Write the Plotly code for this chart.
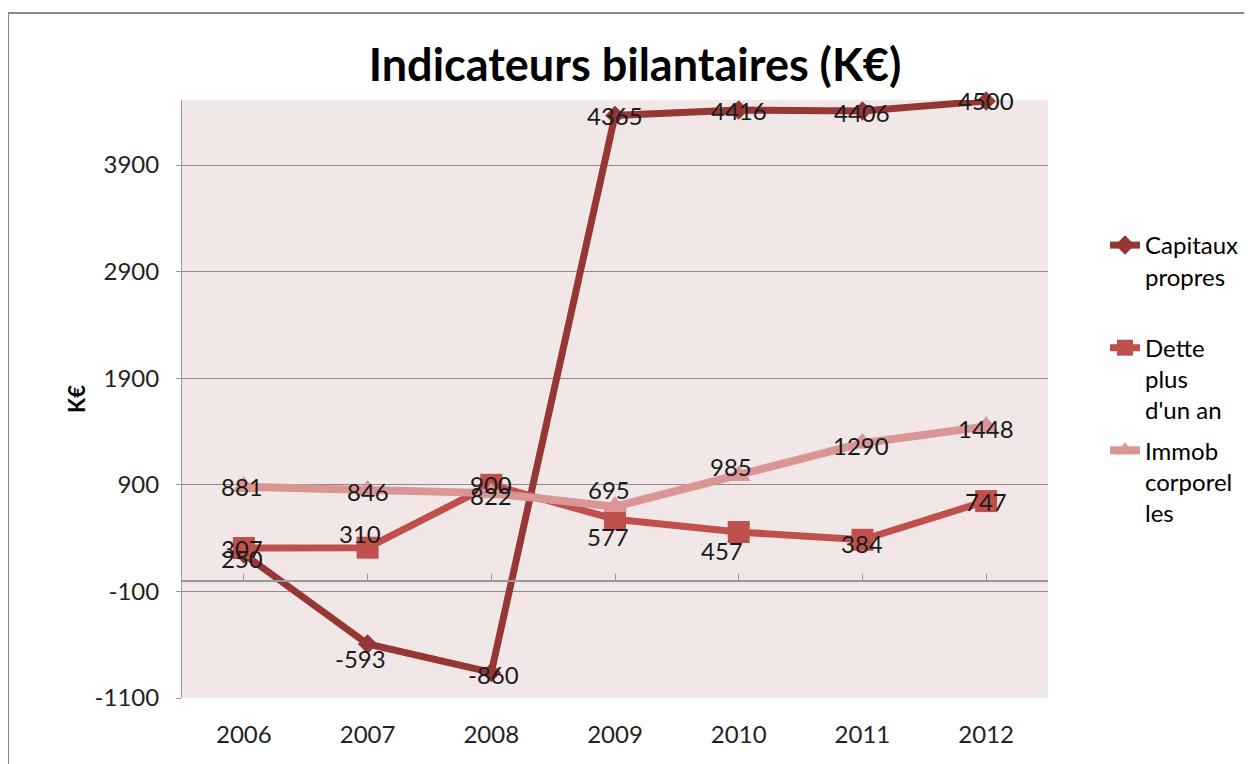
import plotly.graph_objects as go

years = ["2006", "2007", "2008", "2009", "2010", "2011", "2012"]
capitaux = [250, -593, -860, 4365, 4416, 4406, 4500]
dette = [307, 310, 900, 577, 457, 384, 747]
immob = [881, 846, 822, 695, 985, 1290, 1448]
y_ticks = [-1100, -100, 900, 1900, 2900, 3900]
y_min, y_max = -1100, 4510

# label offsets in pixels (style only): (xshift, yshift)
off_cap = [(-2, -4), (-7, -15), (2, -2), (0, 0), (0, 0), (0, -1), (0, 1)]
off_dette = [(-2, 0), (-8, 14), (0, 0), (-7, -17), (-17, -18), (0, -4), (0, 0)]
off_immob = [(-2, 0), (0, -1), (0, -2), (-6, 17), (-8, 9), (-1, -2), (0, -2)]

FONT = "Lato"
FS = 24

fig = go.Figure()
series = [
    ("Capitaux<br>propres<br> ", capitaux, "#953735", 7, "diamond", 15, "a", off_cap),
    ("Dette<br>plus<br>d'un an", dette, "#C0504D", 7, "square", 22, "b", off_dette),
    ("Immob<br>corporel<br>les", immob, "#D99694", 8, "triangle-up", 21, "c", off_immob),
]
for name, vals, col, lw, sym, ms, grp, offs in series:
    fig.add_trace(go.Scatter(
        x=years, y=vals, name=name, mode="lines+markers", legendgroup=grp,
        line=dict(color=col, width=lw), marker=dict(symbol=sym, size=ms, color=col),
        cliponaxis=False))
for name, vals, col, lw, sym, ms, grp, offs in series:
    for i, (yv, (dx, dy)) in enumerate(zip(vals, offs)):
        # category axis: annotation x given as category index
        fig.add_annotation(x=i, y=yv, xref="x", yref="y", text=str(yv), showarrow=False,
                           xanchor="center", yanchor="middle", xshift=dx, yshift=dy,
                           font=dict(family=FONT, size=FS, color="#1a1a1a"))

# page is offset by 8px body margin in the screenshot
W, H = 1244, 756
L, T = 174, 92
PR, PB = 1040, 690
R, B = W - PR, H - PB
pw, ph = PR - L, PB - T
zero_pos = (0 - y_min) / (y_max - y_min)

fig.update_layout(
    width=W, height=H,
    margin=dict(l=L, r=R, t=T, b=B),
    paper_bgcolor="white",
    plot_bgcolor="#F2E7E7",
    font=dict(family=FONT, size=FS, color="#222"),
    title=dict(text="<b>Indicateurs bilantaires (K€)</b>", x=627 / W, xanchor="center",
               y=1 - 57 / H, yanchor="middle", font=dict(family=FONT, size=45, color="black")),
    showlegend=True,
    legend=dict(xref="container", yref="container", x=1097 / W, y=1 - 215 / H,
                xanchor="left", yanchor="top",
                traceorder="grouped", valign="top", font=dict(family=FONT, size=FS, color="black"),
                bgcolor="rgba(0,0,0,0)", tracegroupgap=6, itemwidth=30),
    xaxis=dict(type="category", range=[-0.5, 6.5], showgrid=False, zeroline=False,
               showline=False, ticks="", ticklabelstandoff=20,
               tickfont=dict(family=FONT, size=FS, color="#222")),
    xaxis2=dict(overlaying="x", anchor="free", position=zero_pos, range=[-0.5, 6.5],
                tickvals=[-0.5, 0, 1, 2, 3, 4, 5, 6, 6.5], showticklabels=False,
                ticks="inside", ticklen=6, tickcolor="#999", showline=True, linecolor="#999",
                linewidth=2, showgrid=False, zeroline=False, side="bottom"),
    yaxis=dict(range=[y_min, y_max], tickvals=y_ticks, ticktext=[str(v) for v in y_ticks],
               showgrid=True, gridcolor="#8c8c8c",
               gridwidth=1, zeroline=False, showline=True, linecolor="#999", linewidth=1,
               ticks="outside", ticklen=5, tickcolor="#999", ticklabelstandoff=12,
               tickfont=dict(family=FONT, size=FS, color="#222"),
               title=dict(text="<b>K€</b>", font=dict(family=FONT, size=22, color="black"), standoff=2)),
)

fig.add_trace(go.Scatter(x=[None], y=[None], xaxis="x2", showlegend=False, hoverinfo="skip"))

fig.add_shape(type="rect", xref="paper", yref="paper",
              x0=(0 - L) / pw, x1=(1300 - L) / pw, y0=-0.3, y1=(PB - 5) / ph,
              line=dict(color="#888", width=2), fillcolor="rgba(0,0,0,0)", layer="below")

fig.write_html("out.html")
